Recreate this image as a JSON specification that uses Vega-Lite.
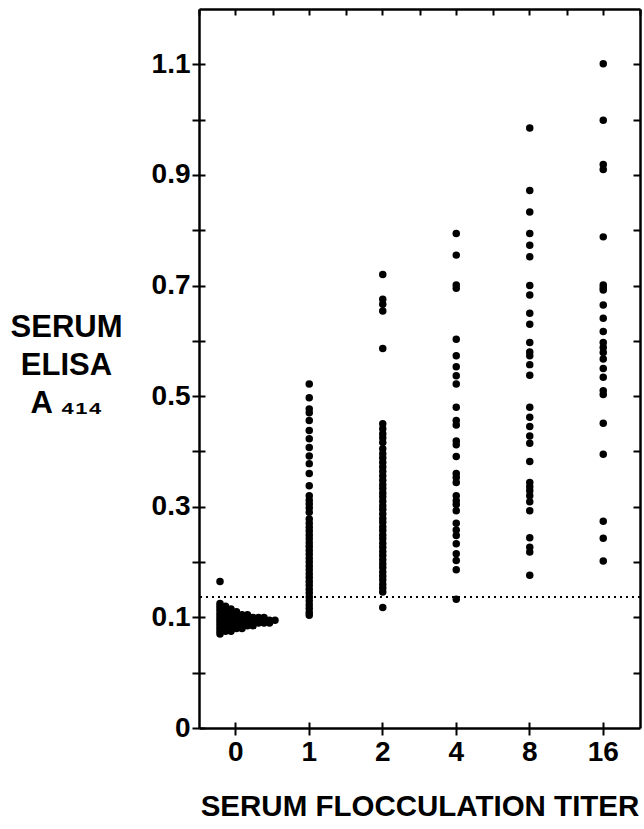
{
  "$schema": "https://vega.github.io/schema/vega-lite/v6.json",
  "width": 441,
  "height": 719,
  "autosize": "none",
  "padding": {"left": 199, "top": 9, "right": 4, "bottom": 101},
  "background": "white",
  "config": {
    "view": {"stroke": null},
    "font": "Liberation Sans",
    "axis": {
      "grid": false,
      "domainColor": "black",
      "domainWidth": 2.5,
      "tickColor": "black",
      "tickWidth": 2,
      "labelFont": "Liberation Sans",
      "labelFontWeight": "bold",
      "labelFontSize": 28,
      "labelColor": "black",
      "titleFont": "Liberation Sans",
      "titleFontWeight": "bold",
      "titleFontSize": 29.5,
      "titleColor": "black"
    }
  },
  "datasets": {
    "pts": [
      {"t": "0", "v": 0.165},
      {"t": "0", "v": 0.125},
      {"t": "0", "v": 0.12}, {"t": "0", "v": 0.12},
      {"t": "0", "v": 0.115}, {"t": "0", "v": 0.115}, {"t": "0", "v": 0.115},
      {"t": "0", "v": 0.11}, {"t": "0", "v": 0.11}, {"t": "0", "v": 0.11}, {"t": "0", "v": 0.11},
      {"t": "0", "v": 0.105}, {"t": "0", "v": 0.105}, {"t": "0", "v": 0.105}, {"t": "0", "v": 0.105}, {"t": "0", "v": 0.105}, {"t": "0", "v": 0.105},
      {"t": "0", "v": 0.1}, {"t": "0", "v": 0.1}, {"t": "0", "v": 0.1}, {"t": "0", "v": 0.1}, {"t": "0", "v": 0.1}, {"t": "0", "v": 0.1}, {"t": "0", "v": 0.1}, {"t": "0", "v": 0.1}, {"t": "0", "v": 0.1},
      {"t": "0", "v": 0.095}, {"t": "0", "v": 0.095}, {"t": "0", "v": 0.095}, {"t": "0", "v": 0.095}, {"t": "0", "v": 0.095}, {"t": "0", "v": 0.095}, {"t": "0", "v": 0.095}, {"t": "0", "v": 0.095}, {"t": "0", "v": 0.095}, {"t": "0", "v": 0.095}, {"t": "0", "v": 0.095},
      {"t": "0", "v": 0.09}, {"t": "0", "v": 0.09}, {"t": "0", "v": 0.09}, {"t": "0", "v": 0.09}, {"t": "0", "v": 0.09}, {"t": "0", "v": 0.09}, {"t": "0", "v": 0.09}, {"t": "0", "v": 0.09}, {"t": "0", "v": 0.09}, {"t": "0", "v": 0.09},
      {"t": "0", "v": 0.085}, {"t": "0", "v": 0.085}, {"t": "0", "v": 0.085}, {"t": "0", "v": 0.085}, {"t": "0", "v": 0.085}, {"t": "0", "v": 0.085}, {"t": "0", "v": 0.085},
      {"t": "0", "v": 0.08}, {"t": "0", "v": 0.08}, {"t": "0", "v": 0.08}, {"t": "0", "v": 0.08}, {"t": "0", "v": 0.08},
      {"t": "0", "v": 0.075}, {"t": "0", "v": 0.075}, {"t": "0", "v": 0.075},
      {"t": "0", "v": 0.07},

      {"t": "1", "v": 0.522}, {"t": "1", "v": 0.497}, {"t": "1", "v": 0.477}, {"t": "1", "v": 0.47}, {"t": "1", "v": 0.456},
      {"t": "1", "v": 0.438}, {"t": "1", "v": 0.423}, {"t": "1", "v": 0.407}, {"t": "1", "v": 0.392}, {"t": "1", "v": 0.378},
      {"t": "1", "v": 0.36}, {"t": "1", "v": 0.338}, {"t": "1", "v": 0.32}, {"t": "1", "v": 0.312}, {"t": "1", "v": 0.305},
      {"t": "1", "v": 0.298}, {"t": "1", "v": 0.29}, {"t": "1", "v": 0.278}, {"t": "1", "v": 0.27}, {"t": "1", "v": 0.263},
      {"t": "1", "v": 0.256}, {"t": "1", "v": 0.249}, {"t": "1", "v": 0.242}, {"t": "1", "v": 0.235}, {"t": "1", "v": 0.228},
      {"t": "1", "v": 0.221}, {"t": "1", "v": 0.214}, {"t": "1", "v": 0.207}, {"t": "1", "v": 0.2}, {"t": "1", "v": 0.193},
      {"t": "1", "v": 0.186}, {"t": "1", "v": 0.179}, {"t": "1", "v": 0.172}, {"t": "1", "v": 0.165}, {"t": "1", "v": 0.158},
      {"t": "1", "v": 0.151}, {"t": "1", "v": 0.144}, {"t": "1", "v": 0.137}, {"t": "1", "v": 0.13}, {"t": "1", "v": 0.123},
      {"t": "1", "v": 0.116}, {"t": "1", "v": 0.109}, {"t": "1", "v": 0.104},

      {"t": "2", "v": 0.72}, {"t": "2", "v": 0.675}, {"t": "2", "v": 0.666}, {"t": "2", "v": 0.654}, {"t": "2", "v": 0.586},
      {"t": "2", "v": 0.45}, {"t": "2", "v": 0.441}, {"t": "2", "v": 0.432}, {"t": "2", "v": 0.425}, {"t": "2", "v": 0.416},
      {"t": "2", "v": 0.405}, {"t": "2", "v": 0.396}, {"t": "2", "v": 0.388}, {"t": "2", "v": 0.38}, {"t": "2", "v": 0.372},
      {"t": "2", "v": 0.364}, {"t": "2", "v": 0.356}, {"t": "2", "v": 0.348}, {"t": "2", "v": 0.34}, {"t": "2", "v": 0.333},
      {"t": "2", "v": 0.325}, {"t": "2", "v": 0.318}, {"t": "2", "v": 0.31}, {"t": "2", "v": 0.302}, {"t": "2", "v": 0.295},
      {"t": "2", "v": 0.287}, {"t": "2", "v": 0.279}, {"t": "2", "v": 0.272}, {"t": "2", "v": 0.264}, {"t": "2", "v": 0.257},
      {"t": "2", "v": 0.249}, {"t": "2", "v": 0.242}, {"t": "2", "v": 0.234}, {"t": "2", "v": 0.227}, {"t": "2", "v": 0.219},
      {"t": "2", "v": 0.212}, {"t": "2", "v": 0.204}, {"t": "2", "v": 0.197}, {"t": "2", "v": 0.19}, {"t": "2", "v": 0.182},
      {"t": "2", "v": 0.175}, {"t": "2", "v": 0.168}, {"t": "2", "v": 0.16}, {"t": "2", "v": 0.153}, {"t": "2", "v": 0.146},
      {"t": "2", "v": 0.118},

      {"t": "4", "v": 0.794}, {"t": "4", "v": 0.755}, {"t": "4", "v": 0.701}, {"t": "4", "v": 0.695}, {"t": "4", "v": 0.603},
      {"t": "4", "v": 0.573}, {"t": "4", "v": 0.553}, {"t": "4", "v": 0.537}, {"t": "4", "v": 0.522}, {"t": "4", "v": 0.48},
      {"t": "4", "v": 0.456}, {"t": "4", "v": 0.448}, {"t": "4", "v": 0.419}, {"t": "4", "v": 0.412}, {"t": "4", "v": 0.391},
      {"t": "4", "v": 0.36}, {"t": "4", "v": 0.353}, {"t": "4", "v": 0.344}, {"t": "4", "v": 0.32}, {"t": "4", "v": 0.311},
      {"t": "4", "v": 0.304}, {"t": "4", "v": 0.293}, {"t": "4", "v": 0.27}, {"t": "4", "v": 0.258}, {"t": "4", "v": 0.248},
      {"t": "4", "v": 0.233}, {"t": "4", "v": 0.215}, {"t": "4", "v": 0.203}, {"t": "4", "v": 0.186}, {"t": "4", "v": 0.133},

      {"t": "8", "v": 0.985}, {"t": "8", "v": 0.872}, {"t": "8", "v": 0.833}, {"t": "8", "v": 0.794}, {"t": "8", "v": 0.773},
      {"t": "8", "v": 0.752}, {"t": "8", "v": 0.7}, {"t": "8", "v": 0.683}, {"t": "8", "v": 0.65}, {"t": "8", "v": 0.63},
      {"t": "8", "v": 0.597}, {"t": "8", "v": 0.58}, {"t": "8", "v": 0.573}, {"t": "8", "v": 0.557}, {"t": "8", "v": 0.538},
      {"t": "8", "v": 0.48}, {"t": "8", "v": 0.462}, {"t": "8", "v": 0.445}, {"t": "8", "v": 0.428}, {"t": "8", "v": 0.415},
      {"t": "8", "v": 0.382}, {"t": "8", "v": 0.344}, {"t": "8", "v": 0.336}, {"t": "8", "v": 0.329}, {"t": "8", "v": 0.32},
      {"t": "8", "v": 0.309}, {"t": "8", "v": 0.293}, {"t": "8", "v": 0.244}, {"t": "8", "v": 0.227}, {"t": "8", "v": 0.218},
      {"t": "8", "v": 0.176},

      {"t": "16", "v": 1.101}, {"t": "16", "v": 0.999}, {"t": "16", "v": 0.919}, {"t": "16", "v": 0.91}, {"t": "16", "v": 0.788},
      {"t": "16", "v": 0.701}, {"t": "16", "v": 0.696}, {"t": "16", "v": 0.692}, {"t": "16", "v": 0.665}, {"t": "16", "v": 0.641},
      {"t": "16", "v": 0.617}, {"t": "16", "v": 0.597}, {"t": "16", "v": 0.588}, {"t": "16", "v": 0.579}, {"t": "16", "v": 0.567},
      {"t": "16", "v": 0.55}, {"t": "16", "v": 0.534}, {"t": "16", "v": 0.51}, {"t": "16", "v": 0.503}, {"t": "16", "v": 0.451},
      {"t": "16", "v": 0.395}, {"t": "16", "v": 0.274}, {"t": "16", "v": 0.243}, {"t": "16", "v": 0.202}
    ]
  },
  "data": {"name": "pts"},
  "resolve": {"axis": {"x": "independent", "y": "independent"}, "scale": {"x": "shared", "y": "shared"}},
  "layer": [
    {
      "transform": [
        {"filter": "datum.t == '0'"},
        {"window": [{"op": "row_number", "as": "r"}], "groupby": ["v"]}
      ],
      "mark": {"type": "circle", "size": 56, "color": "black", "opacity": 1},
      "encoding": {
        "x": {
          "field": "t", "type": "ordinal",
          "scale": {"type": "band", "domain": ["0", "1", "2", "4", "8", "16"], "paddingInner": 0, "paddingOuter": 0},
          "axis": {"orient": "bottom", "title": "SERUM FLOCCULATION TITER", "tickSize": 7, "labelPadding": 3, "labelAngle": 0, "titlePadding": 26}
        },
        "xOffset": {"field": "r", "type": "quantitative", "scale": {"domain": [1, 11], "range": [21, 76], "zero": false}},
        "y": {
          "field": "v", "type": "quantitative",
          "scale": {"domain": [-0.1, 1.2], "nice": false, "zero": false},
          "axis": {
            "orient": "left",
            "values": [-0.1, 0, 0.1, 0.2, 0.3, 0.4, 0.5, 0.6, 0.7, 0.8, 0.9, 1.0, 1.1],
            "tickSize": 7,
            "labelPadding": 2,
            "labelExpr": "abs(datum.value + 0.1) < 0.001 ? '0' : (round(datum.value * 10) % 2 == 1 ? format(datum.value, '.1f') : '')",
            "title": ["SERUM", "ELISA", "A ₄₁₄"],
            "titleFontSize": 31,
            "titleAngle": 0,
            "titleAlign": "center",
            "titleBaseline": "middle",
            "titleX": -133,
            "titleY": 318,
            "titleLineHeight": 38
          }
        }
      }
    },
    {
      "transform": [{"filter": "datum.t != '0'"}],
      "mark": {"type": "circle", "size": 56, "color": "black", "opacity": 1},
      "encoding": {
        "x": {
          "field": "t", "type": "ordinal",
          "scale": {"type": "band", "domain": ["0", "1", "2", "4", "8", "16"], "paddingInner": 0, "paddingOuter": 0},
          "axis": {"orient": "bottom", "title": null, "tickSize": -6, "labels": false, "domain": false}
        },
        "y": {
          "field": "v", "type": "quantitative",
          "axis": {"orient": "left", "title": null, "tickSize": -6, "labels": false, "domain": false,
                   "values": [-0.1, 0, 0.1, 0.2, 0.3, 0.4, 0.5, 0.6, 0.7, 0.8, 0.9, 1.0, 1.1]}
        }
      }
    },
    {
      "mark": {"type": "circle", "opacity": 0},
      "encoding": {
        "x": {
          "field": "t", "type": "ordinal",
          "axis": {"orient": "top", "title": null, "tickSize": -6, "labels": false, "tickBand": "center"}
        },
        "y": {
          "field": "v", "type": "quantitative",
          "axis": {"orient": "right", "title": null, "tickSize": -7, "labels": false,
                   "values": [0, 0.1, 0.2, 0.3, 0.4, 0.5, 0.6, 0.7, 0.8, 0.9, 1.0, 1.1]}
        }
      }
    },
    {
      "mark": {"type": "circle", "opacity": 0},
      "encoding": {
        "x": {
          "field": "t", "type": "ordinal",
          "axis": {"orient": "top", "title": null, "tickSize": -6, "labels": false, "domain": false, "tickBand": "extent"}
        },
        "y": {"field": "v", "type": "quantitative", "axis": null}
      }
    },
    {
      "mark": {"type": "rule", "color": "black", "strokeDash": [2, 4], "strokeWidth": 1.5},
      "encoding": {"y": {"datum": 0.137, "axis": null}}
    }
  ]
}
